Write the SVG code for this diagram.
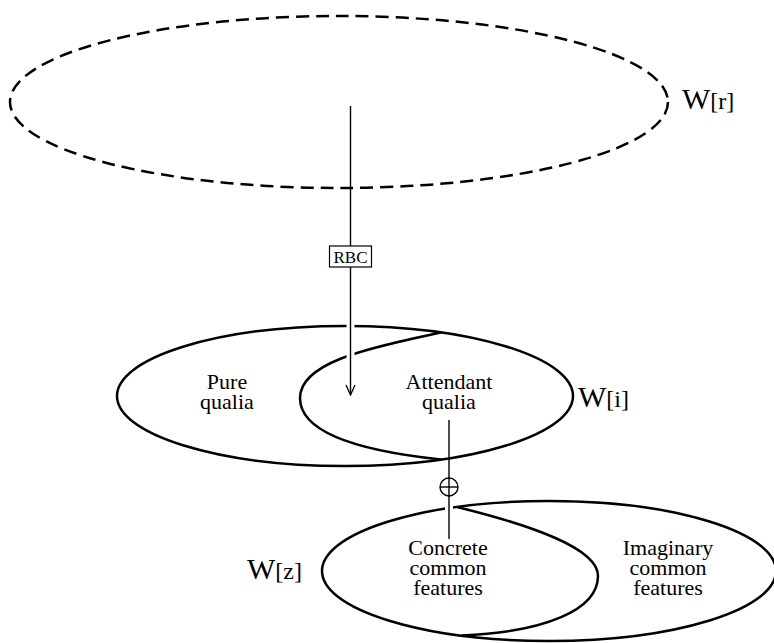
<svg xmlns="http://www.w3.org/2000/svg" width="774" height="643" viewBox="0 0 774 643">
<style>
  .shape { fill: none; stroke: #000; stroke-width: 2.5; }
  .dashed { stroke-dasharray: 13 7; }
  .conn { fill: none; stroke: #000; stroke-width: 1.4; }
  .halo { fill: none; stroke: #fff; stroke-width: 8; }
  .lbl { font-family: "Liberation Serif", "Times New Roman", serif; font-size: 22px; fill: #000; text-anchor: middle; }
  .w { font-family: "Liberation Serif", "Times New Roman", serif; font-size: 30px; fill: #000; }
  .wsub { font-size: 24px; }
  .box { fill: #fff; stroke: #000; stroke-width: 1.2; }
  .boxt { font-family: "Liberation Serif", "Times New Roman", serif; font-size: 17px; fill: #000; text-anchor: middle; }
</style>
<defs>
  <marker id="arr" viewBox="0 0 12 12" refX="11" refY="6" markerWidth="12" markerHeight="12" markerUnits="userSpaceOnUse" orient="auto">
    <path d="M1,1.5 L11,6 L1,10.5" fill="none" stroke="#000" stroke-width="1.3"/>
  </marker>
</defs>

<g id="Wr">
  <ellipse class="shape dashed" cx="339" cy="102" rx="329" ry="86"/>
  <text class="w" x="682" y="109">W<tspan class="wsub">[r]</tspan></text>
</g>

<g id="Wi">
  <ellipse class="shape" cx="345" cy="396" rx="228" ry="70"/>
  <path class="shape" d="M441,332.5 C380,346 300,360 300,398 C300,436 370,452 441,459.5"/>
  <text class="lbl" x="227" y="389">Pure<tspan x="227" y="409">qualia</tspan></text>
  <text class="lbl" x="449" y="389">Attendant<tspan x="449" y="409">qualia</tspan></text>
  <text class="w" x="578" y="407">W<tspan class="wsub">[i]</tspan></text>
</g>

<g id="Wz">
  <ellipse class="shape" cx="549" cy="571" rx="227" ry="70"/>
  <path class="shape" d="M457,507 C530,525 598,548 598,576 C598,610 545,632 462,635.6"/>
  <text class="lbl" x="448" y="555">Concrete<tspan x="448" y="575">common</tspan><tspan x="448" y="595">features</tspan></text>
  <text class="lbl" x="668" y="555">Imaginary<tspan x="668" y="575">common</tspan><tspan x="668" y="595">features</tspan></text>
  <text class="w" x="247" y="579">W<tspan class="wsub">[z]</tspan></text>
</g>

<g id="connectors">
  <line class="halo" x1="350.5" y1="318" x2="350.5" y2="362"/>
  <line class="conn" x1="350.5" y1="106" x2="350.5" y2="395" marker-end="url(#arr)"/>
  <g id="RBC">
    <rect class="box" x="329.5" y="246" width="42" height="21"/>
    <text class="boxt" x="350.5" y="262.5">RBC</text>
  </g>
  <line class="halo" x1="449" y1="500" x2="449" y2="515" stroke-width="7"/>
  <line class="conn" x1="449" y1="420" x2="449" y2="539"/>
  <g id="oplus">
    <circle cx="449" cy="487" r="9" fill="#fff" stroke="#000" stroke-width="1.4"/>
    <line class="conn" x1="440" y1="487" x2="458" y2="487"/>
    <line class="conn" x1="449" y1="478" x2="449" y2="496"/>
  </g>
</g>
</svg>
